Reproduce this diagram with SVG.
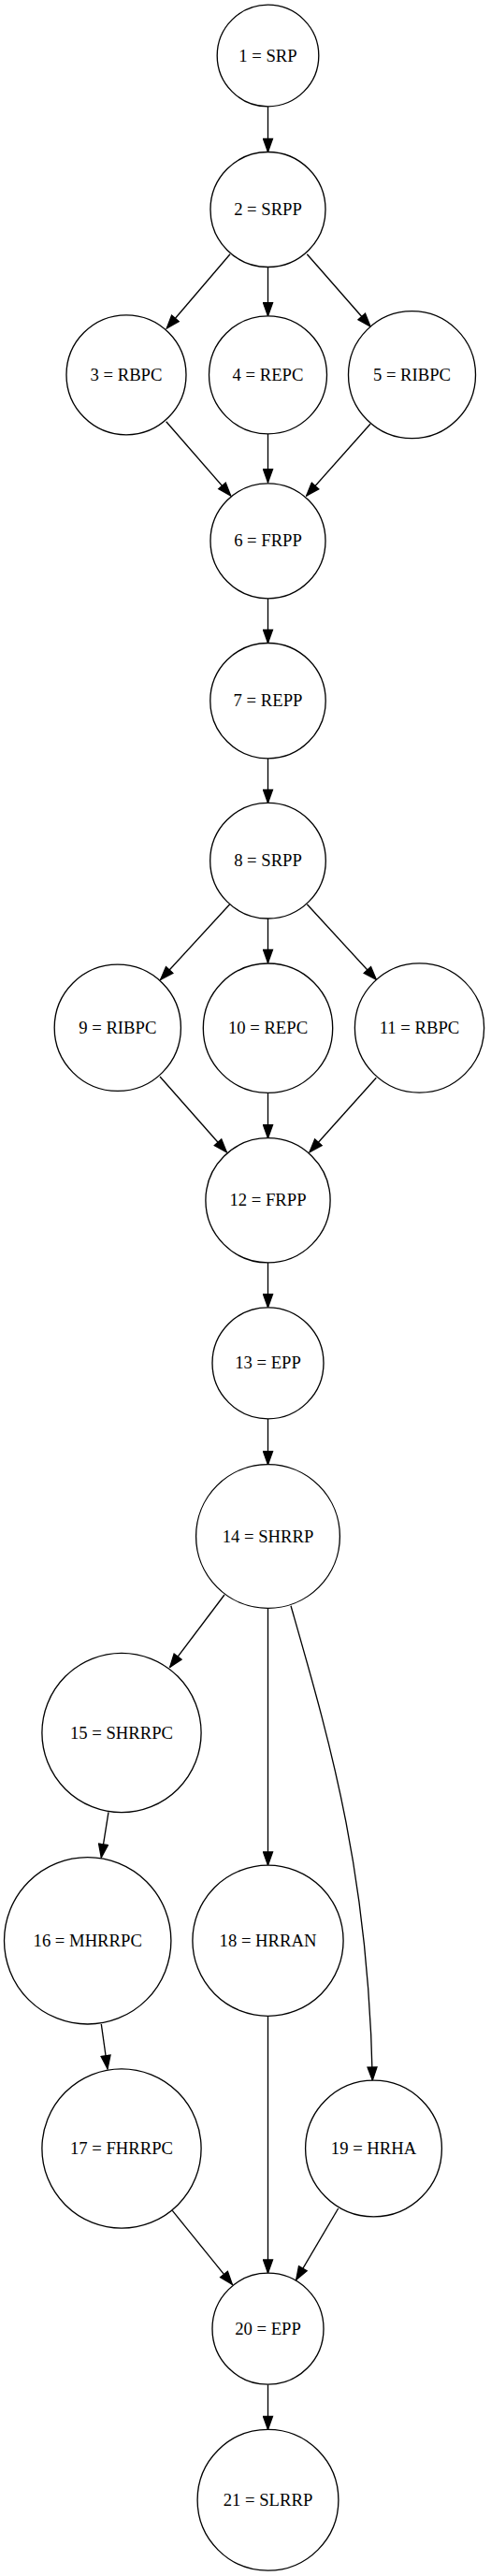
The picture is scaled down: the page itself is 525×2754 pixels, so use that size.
<svg xmlns="http://www.w3.org/2000/svg" width="525" height="2754" viewBox="0 0 525 2754">
<style>
.n circle{fill:#fff;stroke:#000;stroke-width:1.33}
.n text{font-family:"Liberation Serif","Times New Roman",serif;font-size:18.67px;text-anchor:middle;fill:#000}
#edges path{fill:none;stroke:#000;stroke-width:1.33;marker-end:url(#arr)}
</style>
<defs>
<marker id="arr" markerWidth="16" markerHeight="12" refX="15" refY="6" orient="auto" markerUnits="userSpaceOnUse"><path d="M1,1 L15,6 L1,11 Z" fill="#000" stroke="#000" stroke-width="1.33"/></marker>
</defs>
<rect width="525" height="2754" fill="#fff"/>
<g id="edges">
<path d="M286.5,114 L286.5,162.3"/>
<path d="M246,271.7 L178.3,351"/>
<path d="M286.5,285.7 L286.5,337.7"/>
<path d="M328.3,271.7 L396,349"/>
<path d="M177.7,450.7 L246.7,530"/>
<path d="M286.5,464 L286.5,515.7"/>
<path d="M396,453.3 L327.7,530"/>
<path d="M286.5,640 L286.5,687.3"/>
<path d="M286.5,811 L286.5,858.3"/>
<path d="M245.7,966.7 L171.7,1047.3"/>
<path d="M286.5,982 L286.5,1029.3"/>
<path d="M328.3,966.7 L402.3,1047.3"/>
<path d="M171,1151 L242.3,1231.7"/>
<path d="M286.5,1168.3 L286.5,1216.7"/>
<path d="M402.3,1152.3 L331,1231.7"/>
<path d="M286.5,1350 L286.5,1397.7"/>
<path d="M286.5,1517 L286.5,1565.7"/>
<path d="M240,1705 L181.7,1782.3"/>
<path d="M286.5,1719.3 L286.5,1994"/>
<path d="M311,1716.7 C352,1860 394,2000 398.3,2224"/>
<path d="M116,1937.3 L108.3,1985.7"/>
<path d="M108.3,2164 L115,2211.7"/>
<path d="M184.3,2363.3 L248.3,2442.3"/>
<path d="M286.5,2155.3 L286.5,2430"/>
<path d="M361.7,2361 L316.7,2437.3"/>
<path d="M286.5,2549.3 L286.5,2597.3"/>
</g>
<g id="n1" class="n"><circle cx="286.5" cy="59.5" r="54.3"/><text x="286.5" y="65.5">1 = SRP</text></g>
<g id="n2" class="n"><circle cx="286.5" cy="224" r="61.5"/><text x="286.5" y="230">2 = SRPP</text></g>
<g id="n3" class="n"><circle cx="135" cy="400.8" r="64"/><text x="135" y="406.8">3 = RBPC</text></g>
<g id="n4" class="n"><circle cx="286.5" cy="400.8" r="63"/><text x="286.5" y="406.8">4 = REPC</text></g>
<g id="n5" class="n"><circle cx="440.5" cy="400.7" r="68"/><text x="440.5" y="406.7">5 = RIBPC</text></g>
<g id="n6" class="n"><circle cx="286.5" cy="578.3" r="61.5"/><text x="286.5" y="584.3">6 = FRPP</text></g>
<g id="n7" class="n"><circle cx="286.5" cy="749.2" r="61.7"/><text x="286.5" y="755.2">7 = REPP</text></g>
<g id="n8" class="n"><circle cx="286.5" cy="920.2" r="61.8"/><text x="286.5" y="926.2">8 = SRPP</text></g>
<g id="n9" class="n"><circle cx="125.8" cy="1098.8" r="67.6"/><text x="125.8" y="1104.8">9 = RIBPC</text></g>
<g id="n10" class="n"><circle cx="286.5" cy="1099.2" r="69.2"/><text x="286.5" y="1105.2">10 = REPC</text></g>
<g id="n11" class="n"><circle cx="448.5" cy="1099" r="69.1"/><text x="448.5" y="1105">11 = RBPC</text></g>
<g id="n12" class="n"><circle cx="286.5" cy="1283.3" r="66.6"/><text x="286.5" y="1289.3">12 = FRPP</text></g>
<g id="n13" class="n"><circle cx="286.5" cy="1457.3" r="59.5"/><text x="286.5" y="1463.3">13 = EPP</text></g>
<g id="n14" class="n"><circle cx="286.5" cy="1642.5" r="76.9"/><text x="286.5" y="1648.5">14 = SHRRP</text></g>
<g id="n15" class="n"><circle cx="130" cy="1852.5" r="85.1"/><text x="130" y="1858.5">15 = SHRRPC</text></g>
<g id="n16" class="n"><circle cx="93.7" cy="2074.8" r="89.2"/><text x="93.7" y="2080.8">16 = MHRRPC</text></g>
<g id="n17" class="n"><circle cx="130" cy="2297" r="85.1"/><text x="130" y="2303">17 = FHRRPC</text></g>
<g id="n18" class="n"><circle cx="286.5" cy="2074.7" r="80.6"/><text x="286.5" y="2080.7">18 = HRRAN</text></g>
<g id="n19" class="n"><circle cx="399.5" cy="2297" r="72.9"/><text x="399.5" y="2303">19 = HRHA</text></g>
<g id="n20" class="n"><circle cx="286.5" cy="2489.7" r="59.5"/><text x="286.5" y="2495.7">20 = EPP</text></g>
<g id="n21" class="n"><circle cx="286.5" cy="2672.8" r="75.4"/><text x="286.5" y="2678.8">21 = SLRRP</text></g>
</svg>
